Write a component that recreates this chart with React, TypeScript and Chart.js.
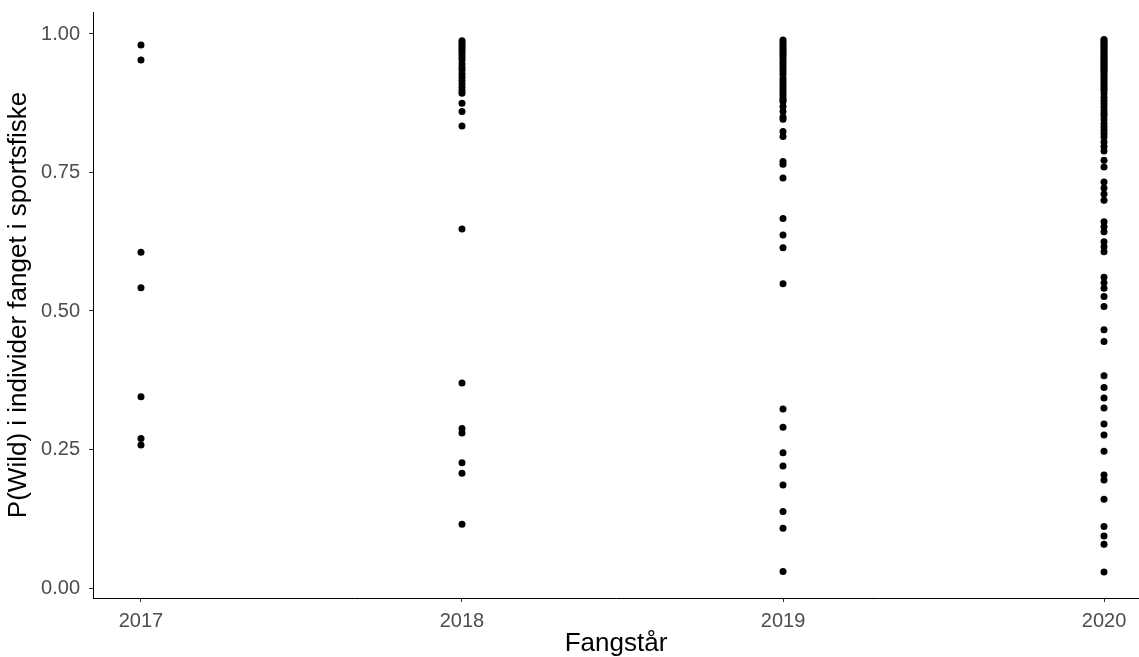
import React, { useEffect, useRef } from "react";
import { Chart, registerables } from "chart.js";

Chart.register(...registerables);

const years = [2017, 2018, 2019, 2020];
const yTicks = [0, 0.25, 0.5, 0.75, 1.0];

const p2017 = [0.98, 0.953, 0.606, 0.542, 0.345, 0.27, 0.258];

const p2018 = [
  0.988, 0.984, 0.98, 0.976, 0.972, 0.968, 0.963, 0.958, 0.953, 0.946, 0.94, 0.935,
  0.928, 0.922, 0.916, 0.91, 0.904, 0.898, 0.893, 0.875, 0.86, 0.834, 0.648, 0.37,
  0.288, 0.28, 0.226, 0.207, 0.115,
];

const p2019 = [
  0.989, 0.985, 0.981, 0.977, 0.973, 0.969, 0.965, 0.961, 0.957, 0.952, 0.947, 0.942,
  0.937, 0.932, 0.927, 0.92, 0.915, 0.91, 0.905, 0.9, 0.895, 0.89, 0.885, 0.881,
  0.878, 0.869, 0.86, 0.85, 0.846, 0.824, 0.815, 0.77, 0.765, 0.74, 0.667, 0.637,
  0.614, 0.549, 0.323, 0.29, 0.244, 0.22, 0.186, 0.138, 0.108, 0.03,
];

const p2020 = [
  0.99, 0.987, 0.984, 0.981, 0.978, 0.975, 0.972, 0.969, 0.966, 0.963, 0.96, 0.957,
  0.954, 0.951, 0.948, 0.945, 0.942, 0.939, 0.936, 0.933, 0.93, 0.926, 0.922, 0.918,
  0.914, 0.91, 0.906, 0.902, 0.898, 0.892, 0.886, 0.88, 0.874, 0.868, 0.862, 0.857,
  0.852, 0.845, 0.838, 0.832, 0.826, 0.82, 0.814, 0.805, 0.797, 0.789, 0.772, 0.76,
  0.733, 0.722, 0.711, 0.7, 0.661, 0.652, 0.643, 0.625, 0.616, 0.607, 0.561, 0.551,
  0.541, 0.526, 0.508, 0.466, 0.445, 0.383, 0.362, 0.343, 0.325, 0.296, 0.276, 0.247,
  0.204, 0.195, 0.16, 0.111, 0.094, 0.079, 0.029,
];

const seriesByYear = [p2017, p2018, p2019, p2020];

const W = 1139;
const H = 657;
const FONT = "Liberation Sans, Arial, sans-serif";

export default function App() {
  const ref = useRef<HTMLCanvasElement>(null);

  useEffect(() => {
    if (!ref.current) return;
    const points: { x: number; y: number }[] = [];
    years.forEach((yr, i) => {
      seriesByYear[i].forEach((v) => points.push({ x: yr, y: v }));
    });

    const chart = new Chart(ref.current, {
      type: "scatter",
      data: {
        datasets: [
          {
            data: points,
            backgroundColor: "#000000",
            borderWidth: 0,
            pointRadius: 3.5,
            pointHoverRadius: 3.5,
          },
        ],
      },
      options: {
        animation: false,
        responsive: false,
        events: [],
        layout: { autoPadding: false, padding: { top: 12, left: 0, right: 0, bottom: 0 } },
        plugins: { legend: { display: false }, tooltip: { enabled: false } },
        scales: {
          x: {
            type: "linear",
            min: 2016.8505,
            max: 2020.109,
            afterFit: (s: any) => {
              s.height = 59;
              s.paddingLeft = 0;
              s.paddingRight = 0;
            },
            afterBuildTicks: (s: any) => {
              s.ticks = years.map((v) => ({ value: v }));
            },
            grid: {
              drawOnChartArea: false,
              drawTicks: true,
              tickLength: 4,
              tickColor: "#333333",
              tickWidth: 1,
            },
            border: { display: true, color: "#000000", width: 1 },
            ticks: {
              color: "#4D4D4D",
              padding: 7,
              maxRotation: 0,
              autoSkip: false,
              font: { family: FONT, size: 20 },
              callback: (v: any) => String(v),
            },
            title: {
              display: true,
              text: "Fangstår",
              color: "#000000",
              font: { family: FONT, size: 26 },
              padding: { top: 0, bottom: -2 },
            },
          },
          y: {
            type: "linear",
            min: -0.01805,
            max: 1.0397,
            afterFit: (s: any) => {
              s.width = 93;
              s.paddingTop = 0;
              s.paddingBottom = 0;
            },
            afterBuildTicks: (s: any) => {
              s.ticks = yTicks.map((v) => ({ value: v }));
            },
            grid: {
              drawOnChartArea: false,
              drawTicks: true,
              tickLength: 4,
              tickColor: "#333333",
              tickWidth: 1,
            },
            border: { display: true, color: "#000000", width: 1 },
            ticks: {
              color: "#4D4D4D",
              padding: 9,
              autoSkip: false,
              font: { family: FONT, size: 20 },
              callback: (v: any) => Number(v).toFixed(2),
            },
            title: {
              display: true,
              text: "P(Wild) i individer fanget i sportsfiske",
              color: "#000000",
              font: { family: FONT, size: 26 },
              padding: { top: 3, bottom: 0 },
            },
          },
        },
      },
    });
    return () => chart.destroy();
  }, []);

  return (
    <div style={{ position: "absolute", left: 0, top: 0, width: W, height: H, background: "#ffffff" }}>
      <canvas ref={ref} width={W} height={H} style={{ width: W, height: H, display: "block" }} />
    </div>
  );
}
